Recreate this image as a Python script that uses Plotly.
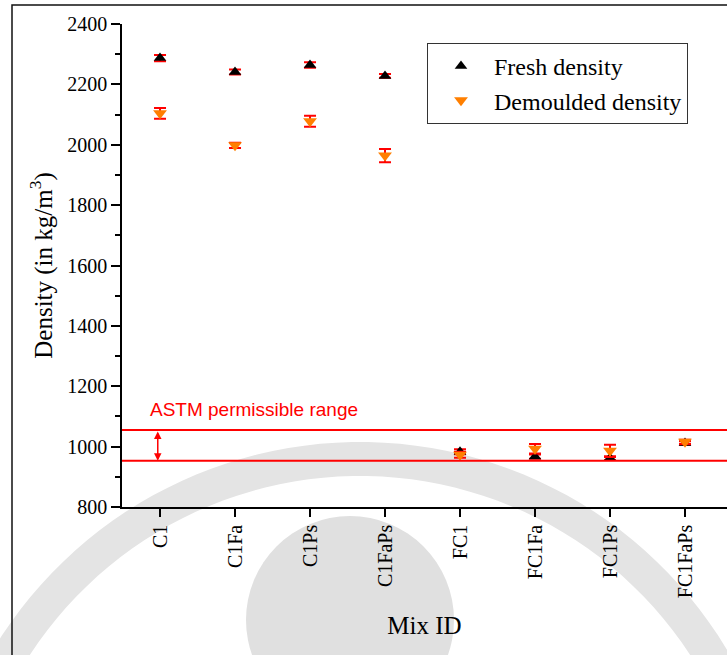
import numpy as np
import plotly.graph_objects as go

# ---------------- data ----------------
mix_ids = ["C1", "C1Fa", "C1Ps", "C1FaPs", "FC1", "FC1Fa", "FC1Ps", "FC1FaPs"]
fresh_density = [2287, 2241, 2264, 2228, 983, 967, 962, 1012]
fresh_err = [10, 8, 9, 6, 8, 7, 6, 6]
demoulded_density = [2104, 1998, 2078, 1964, 973, 993, 986, 1016]
demoulded_err = [18, 9, 18, 22, 10, 16, 20, 7]
astm_upper = 1055
astm_lower = 953
y_ticks = [800, 1000, 1200, 1400, 1600, 1800, 2000, 2200, 2400]

# ---------------- geometry helpers (pixel -> paper) ----------------
W, H = 727, 655
L, R, T, B = 122, 0, 24, 148
PW, PH = W - L - R, H - T - B


def px(X):
    return (X - L) / PW


def py(Y):
    return (H - B - Y) / PH


SERIF = "Liberation Serif, Times New Roman, serif"

fig = go.Figure()

fig.add_trace(go.Scatter(
    x=mix_ids, y=fresh_density, mode="markers", name="Fresh density",
    marker=dict(symbol="triangle-up", size=11, color="black"),
    error_y=dict(type="data", array=fresh_err, color="red", thickness=2, width=6),
))
fig.add_trace(go.Scatter(
    x=mix_ids, y=demoulded_density, mode="markers", name="Demoulded density",
    marker=dict(symbol="triangle-down", size=12, color="#FF7F00"),
    error_y=dict(type="data", array=demoulded_err, color="red", thickness=2, width=6),
))

shapes = []
# watermark: outer ring band
ang = np.linspace(np.pi * 0.97, np.pi * 0.03, 80)
cx, cy, Ro, Ri = 360, 870, 428, 394
outer = [(cx + Ro * np.cos(a), cy - Ro * np.sin(a)) for a in ang]
inner = [(cx + Ri * np.cos(a), cy - Ri * np.sin(a)) for a in ang[::-1]]
pts = outer + inner
path = "M " + " L ".join(f"{px(X):.5f},{py(Y):.5f}" for X, Y in pts) + " Z"
shapes.append(dict(type="path", xref="paper", yref="paper", path=path,
                   fillcolor="#e4e4e4", line=dict(width=0), layer="below"))
# watermark: central disc
dcx, dcy, dr = 350, 620, 104
shapes.append(dict(type="circle", xref="paper", yref="paper",
                   x0=px(dcx - dr), x1=px(dcx + dr), y0=py(dcy + dr), y1=py(dcy - dr),
                   fillcolor="#e0e0e0", line=dict(width=0), layer="below"))
# outer frame of the picture
shapes.append(dict(type="rect", xref="paper", yref="paper",
                   x0=px(12), x1=px(760), y0=py(700), y1=py(5),
                   line=dict(color="#111", width=1.5), layer="below"))
# ASTM range lines
for v in (astm_upper, astm_lower):
    shapes.append(dict(type="line", xref="paper", yref="y", x0=0, x1=1, y0=v, y1=v,
                       line=dict(color="red", width=2)))

annotations = [
    dict(x=-0.03, y=astm_lower, ax=-0.03, ay=astm_upper, xref="x", yref="y",
         axref="x", ayref="y", text="", showarrow=True, arrowhead=2, arrowside="end+start",
         arrowsize=1, arrowwidth=1.5, arrowcolor="red", standoff=0, startstandoff=0),
    dict(x=px(148), y=1122, xref="paper", yref="y", xanchor="left", yanchor="middle",
         text="ASTM permissible range", showarrow=False,
         font=dict(family="Liberation Sans, Arial, sans-serif", size=19, color="red")),
]

fig.update_layout(
    width=W, height=H,
    margin=dict(l=L, r=R, t=T, b=B),
    paper_bgcolor="white", plot_bgcolor="rgba(0,0,0,0)",
    font=dict(family=SERIF, color="black"),
    shapes=shapes, annotations=annotations,
    showlegend=True,
    legend=dict(x=px(427), y=py(43), xanchor="left", yanchor="top",
                bgcolor="white", bordercolor="#333", borderwidth=1,
                font=dict(family=SERIF, size=24, color="black"),
                itemwidth=56, tracegroupgap=0),
)

fig.update_xaxes(
    type="category", categoryorder="array", categoryarray=mix_ids,
    range=[-0.507, 7.56],
    showline=True, linecolor="black", linewidth=1.5, mirror=False,
    showgrid=False, zeroline=False,
    ticks="outside", ticklen=8, tickwidth=1.5, tickcolor="black",
    tickangle=-90, tickfont=dict(family=SERIF, size=20),
    title=dict(text="Mix ID", font=dict(family=SERIF, size=25), standoff=19),
)
fig.update_yaxes(
    range=[800, 2400], tickvals=y_ticks,
    showline=True, linecolor="black", linewidth=1.5, mirror=False,
    showgrid=False, zeroline=False,
    ticks="outside", ticklen=9, tickwidth=1.5, tickcolor="black",
    minor=dict(dtick=100, ticks="outside", ticklen=5, tickwidth=1.5, tickcolor="black"),
    tickfont=dict(family=SERIF, size=20),
    title=dict(text="Density (in kg/m<sup>3</sup>)", font=dict(family=SERIF, size=25), standoff=8),
)

fig.write_html("out.html")
